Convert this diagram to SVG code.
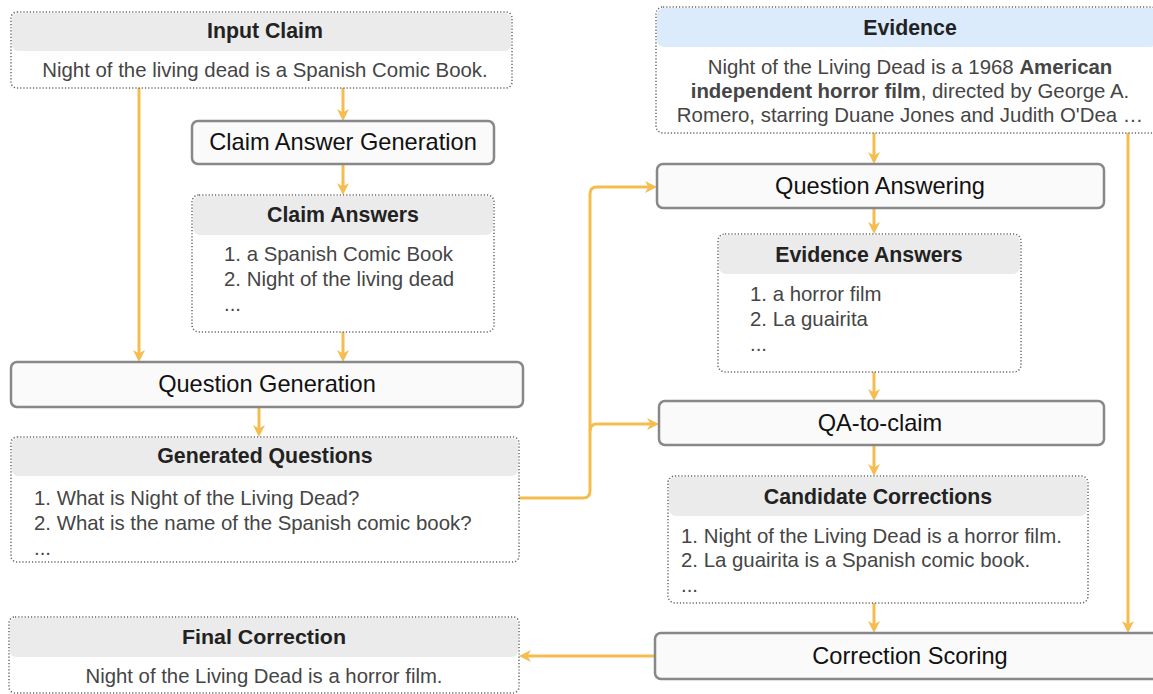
<svg xmlns="http://www.w3.org/2000/svg" width="1153" height="694" viewBox="0 0 1153 694">
  <defs>
    <marker id="arrow" viewBox="0 0 12 12" refX="8" refY="6" markerWidth="12" markerHeight="12" markerUnits="userSpaceOnUse" orient="auto">
      <path d="M0,0 L12,6 L0,12 L3.5,6 z" fill="#f5bd4f"/>
    </marker>
  </defs>
  <style>
    text { font-family: "Liberation Sans", Arial, sans-serif; }
    .panel { fill: #ffffff; stroke: #666666; stroke-width: 1.5; stroke-dasharray: 1.2 2; }
    .head { fill: #ebebeb; }
    .head-blue { fill: #dcebfc; }
    .title { font-size: 21.3px; font-weight: bold; fill: #222222; text-anchor: middle; }
    .body { font-size: 20.4px; fill: #454545; }
    .mid { text-anchor: middle; }
    .step { fill: #fafafa; stroke: #888888; stroke-width: 2.5; }
    .step-label { font-size: 23.6px; fill: #111111; text-anchor: middle; }
    .flow { fill: none; stroke: #f5bd4f; stroke-width: 3; }
  </style>

  <!-- connectors -->
  <g id="connectors">
    <path class="flow" d="M343,88 V117" marker-end="url(#arrow)"/>
    <path class="flow" d="M343,164 V191" marker-end="url(#arrow)"/>
    <path class="flow" d="M343,332 V358" marker-end="url(#arrow)"/>
    <path class="flow" d="M139,88 V358" marker-end="url(#arrow)"/>
    <path class="flow" d="M259,407 V433" marker-end="url(#arrow)"/>
    <path class="flow" d="M519,498 H583 Q590,498 590,491 V194 Q590,187 597,187 H653" marker-end="url(#arrow)"/>
    <path class="flow" d="M590,431 Q590,424 597,424 H655" marker-end="url(#arrow)"/>
    <path class="flow" d="M874,133 V160" marker-end="url(#arrow)"/>
    <path class="flow" d="M874,208 V230" marker-end="url(#arrow)"/>
    <path class="flow" d="M874,372 V397" marker-end="url(#arrow)"/>
    <path class="flow" d="M874,445 V472" marker-end="url(#arrow)"/>
    <path class="flow" d="M874,603 V629" marker-end="url(#arrow)"/>
    <path class="flow" d="M1128,133 V629" marker-end="url(#arrow)"/>
    <path class="flow" d="M655,656 H523" marker-end="url(#arrow)"/>
  </g>

  <!-- Input Claim -->
  <g id="input-claim">
    <rect class="panel" x="11" y="12" width="501" height="76" rx="6"/>
    <rect class="head" x="12" y="13" width="499" height="38" rx="6"/>
    <text class="title" x="265" y="38">Input Claim</text>
    <text class="body mid" x="265" y="77">Night of the living dead is a Spanish Comic Book.</text>
  </g>

  <!-- Claim Answer Generation -->
  <g id="claim-answer-generation">
    <rect class="step" x="192" y="121" width="302" height="43" rx="6"/>
    <text class="step-label" x="343" y="150">Claim Answer Generation</text>
  </g>

  <!-- Claim Answers -->
  <g id="claim-answers">
    <rect class="panel" x="192" y="195" width="302" height="137" rx="7"/>
    <rect class="head" x="193" y="196" width="300" height="39" rx="7"/>
    <text class="title" x="343" y="222">Claim Answers</text>
    <text class="body" x="224" y="261">1. a Spanish Comic Book</text>
    <text class="body" x="224" y="286">2. Night of the living dead</text>
    <text class="body" x="224" y="311">...</text>
  </g>

  <!-- Question Generation -->
  <g id="question-generation">
    <rect class="step" x="11" y="362" width="512" height="45" rx="6"/>
    <text class="step-label" x="267" y="392">Question Generation</text>
  </g>

  <!-- Generated Questions -->
  <g id="generated-questions">
    <rect class="panel" x="11" y="437" width="508" height="125" rx="6"/>
    <rect class="head" x="12" y="438" width="506" height="38" rx="6"/>
    <text class="title" x="265" y="463">Generated Questions</text>
    <text class="body" x="34" y="505">1. What is Night of the Living Dead?</text>
    <text class="body" x="34" y="530">2. What is the name of the Spanish comic book?</text>
    <text class="body" x="34" y="555">...</text>
  </g>

  <!-- Final Correction -->
  <g id="final-correction">
    <rect class="panel" x="9" y="617" width="510" height="76" rx="6"/>
    <rect class="head" x="10" y="618" width="508" height="39" rx="6"/>
    <text class="title" x="264" y="644" textLength="164" lengthAdjust="spacingAndGlyphs" style="font-size:21px">Final Correction</text>
    <text class="body mid" x="264" y="683" textLength="357" lengthAdjust="spacingAndGlyphs" style="font-size:20.5px">Night of the Living Dead is a horror film.</text>
  </g>

  <!-- Evidence -->
  <g id="evidence">
    <rect class="panel" x="656" y="7" width="502" height="126" rx="7"/>
    <rect class="head-blue" x="657" y="8" width="500" height="39" rx="7"/>
    <text class="title" x="910" y="35">Evidence</text>
    <text class="body mid" x="910" y="74">Night of the Living Dead is a 1968 <tspan font-weight="bold">American</tspan></text>
    <text class="body mid" x="910" y="98"><tspan font-weight="bold">independent horror film</tspan>, directed by George A.</text>
    <text class="body mid" x="910" y="122">Romero, starring Duane Jones and Judith O'Dea …</text>
  </g>

  <!-- Question Answering -->
  <g id="question-answering">
    <rect class="step" x="657" y="164" width="447" height="44" rx="6"/>
    <text class="step-label" x="880" y="194">Question Answering</text>
  </g>

  <!-- Evidence Answers -->
  <g id="evidence-answers">
    <rect class="panel" x="718" y="234" width="303" height="138" rx="7"/>
    <rect class="head" x="719" y="235" width="301" height="39" rx="7"/>
    <text class="title" x="869" y="262">Evidence Answers</text>
    <text class="body" x="750" y="301">1. a horror film</text>
    <text class="body" x="750" y="326">2. La guairita</text>
    <text class="body" x="750" y="351">...</text>
  </g>

  <!-- QA-to-claim -->
  <g id="qa-to-claim">
    <rect class="step" x="659" y="401" width="445" height="44" rx="6"/>
    <text class="step-label" x="880" y="431">QA-to-claim</text>
  </g>

  <!-- Candidate Corrections -->
  <g id="candidate-corrections">
    <rect class="panel" x="668" y="476" width="420" height="127" rx="7"/>
    <rect class="head" x="669" y="477" width="418" height="39" rx="7"/>
    <text class="title" x="878" y="504">Candidate Corrections</text>
    <text class="body" x="681" y="543">1. Night of the Living Dead is a horror film.</text>
    <text class="body" x="681" y="567">2. La guairita is a Spanish comic book.</text>
    <text class="body" x="681" y="592">...</text>
  </g>

  <!-- Correction Scoring -->
  <g id="correction-scoring">
    <rect class="step" x="655" y="633" width="505" height="46" rx="6"/>
    <text class="step-label" x="910" y="664">Correction Scoring</text>
  </g>
</svg>
